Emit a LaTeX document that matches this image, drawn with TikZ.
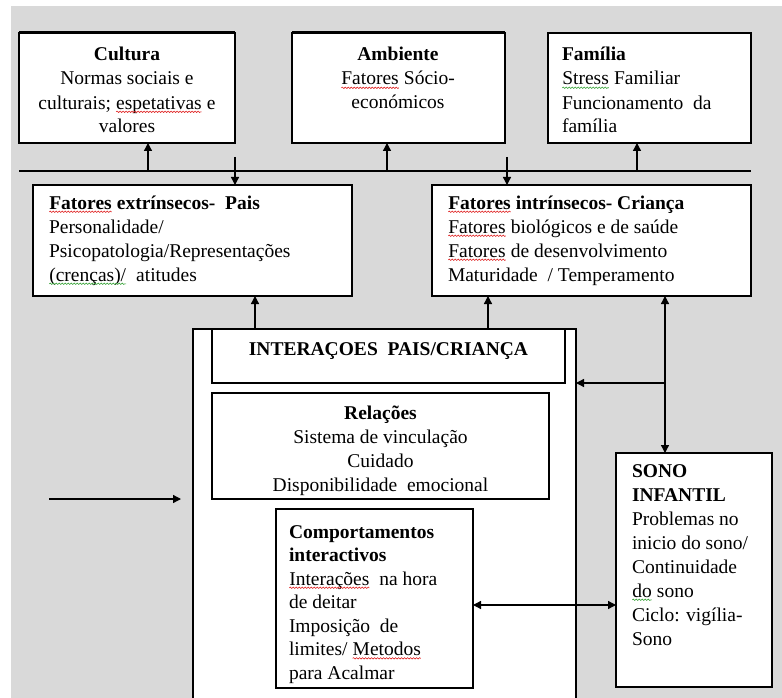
\documentclass[tikz,border=0pt]{standalone}
\usepackage{fontspec}
\setmainfont{Liberation Serif}
\usetikzlibrary{arrows.meta,decorations.pathmorphing}
\definecolor{bggray}{HTML}{D9D9D9}
\definecolor{sqred}{HTML}{E02020}
\definecolor{sqgreen}{HTML}{30A030}
\newcommand\wavy[2]{\tikz[baseline=(w.base)]{\node[inner sep=0pt,outer sep=0pt,anchor=base,draw=none,fill=none,minimum width=0pt,minimum height=0pt](w){#2};\draw[#1,line width=0.6pt,decorate,decoration={snake,amplitude=0.7pt,segment length=3pt}]([yshift=-2.8pt]w.base west)--([yshift=-2.8pt]w.base east);}}
\begin{document}
\begin{tikzpicture}[x=1pt,y=-1pt,
  box/.style={draw=black,line width=1.5pt,fill=white,inner sep=0pt,outer sep=0pt},
  txt/.style={inner sep=0pt,outer sep=0pt,font=\fontsize{19.5}{24}\selectfont},
  arr/.style={line width=1.3pt,-{Triangle[length=8pt,width=8pt]}},
  arr2/.style={line width=1.3pt,{Triangle[length=8pt,width=8pt]}-{Triangle[length=8pt,width=8pt]}}]
\useasboundingbox (0,0) rectangle (782,698);
\clip (0,0) rectangle (782,698);
\fill[white] (0,0) rectangle (782,698);
\fill[bggray] (11,6) rectangle (782,698);

% top boxes
\node[box,minimum width=216pt,minimum height=110pt] (cultura) at (127,88) {};
\node[box,minimum width=213pt,minimum height=110pt] (ambiente) at (398.5,88) {};
\node[box,minimum width=203pt,minimum height=110pt] (familia) at (649.5,88) {};
\draw[line width=3pt] (cultura.north west) -- (cultura.north east);
\draw[line width=3pt] (ambiente.north west) -- (ambiente.north east);

% (base anchor of a multi-line node = baseline of its last line)
\node[txt,anchor=base,align=center] (tcultura) at (127,133)
  {\textbf{Cultura}\\Normas sociais e\\culturais; \wavy{sqred}{espetativas} e\\valores};
\node[txt,anchor=base,align=center] (tambiente) at (398,109)
  {\textbf{Ambiente}\\\wavy{sqred}{Fatores} Sócio-\\económicos};
\node[txt,anchor=base west,align=left] (tfamilia) at (562,133)
  {\textbf{Família}\\\wavy{sqgreen}{Stress} Familiar\\Funcionamento \ da\\família};

% horizontal bus line
\coordinate (hlw) at (19,171);
\coordinate (hle) at (751,171);
\draw[line width=1.5pt] (hlw) -- (hle);

% middle boxes
\node[box,minimum width=319pt,minimum height=111pt] (extr) at (192.5,240.5) {};
\node[box,minimum width=319pt,minimum height=111pt] (intr) at (591.5,240.5) {};
\node[txt,anchor=base west,align=left] (textr) at (49,281)
  {\textbf{\wavy{sqred}{Fatores} extrínsecos- \ Pais}\\Personalidade/\\Psicopatologia/Representações\\\wavy{sqgreen}{(crenças)/} \ atitudes};
\node[txt,anchor=base west,align=left] (tintr) at (448,281)
  {\textbf{\wavy{sqred}{Fatores} intrínsecos- Criança}\\\wavy{sqred}{Fatores} biológicos e de saúde\\\wavy{sqred}{Fatores} de desenvolvimento\\Maturidade \ / Temperamento};

% arrows bus -> top boxes
\coordinate (u1) at (148,171);
\coordinate (u2) at (387,171);
\coordinate (u3) at (637,171);
\draw[arr] (u1) -- (u1 |- cultura.south);
\draw[arr] (u2) -- (u2 |- ambiente.south);
\draw[arr] (u3) -- (u3 |- familia.south);
% arrows down to middle boxes
\coordinate (d1) at (235,157);
\coordinate (d2) at (507,157);
\draw[arr] (d1) -- (d1 |- extr.north);
\draw[arr] (d2) -- (d2 |- intr.north);

% big interactions box
\node[box,minimum width=383pt,minimum height=381pt] (outer) at (384.5,519.5) {};
\node[box,minimum width=353pt,minimum height=54pt] (inter) at (388.5,356) {};
\node[txt,anchor=base,font=\fontsize{19.5}{24}\selectfont\bfseries] (tinter) at (388.5,355) {INTERAÇOES \ PAIS/CRIANÇA};
\node[box,minimum width=337pt,minimum height=106pt] (rel) at (380.5,446) {};
\node[txt,anchor=base,align=center,font=\fontsize{19.5}{23.7}\selectfont] (trel) at (380.5,491)
  {\textbf{Relações}\\Sistema de vinculação\\Cuidado\\Disponibilidade \ emocional};
\node[box,minimum width=197pt,minimum height=179pt] (comp) at (374.5,598.5) {};
\node[txt,anchor=base west,align=left,font=\fontsize{19.5}{23.5}\selectfont] (tcomp) at (289,679)
  {\textbf{Comportamentos}\\\textbf{interactivos}\\\wavy{sqred}{Interações} \ na hora\\de deitar\\Imposição \ de\\limites/ \wavy{sqred}{Metodos}\\para Acalmar};

% sleep box
\node[box,minimum width=156pt,minimum height=234pt] (sono) at (694,570) {};
\node[txt,anchor=base west,align=left] (tsono) at (632,645)
  {\textbf{SONO}\\\textbf{INFANTIL}\\Problemas no\\inicio do sono/\\Continuidade\\\wavy{sqgreen}{do} sono\\Ciclo: vigília-\\Sono};

% arrows
\coordinate (p1) at (255,0);
\coordinate (p2) at (488,0);
\coordinate (p3) at (665,0);
\coordinate (p4) at (0,605);
\draw[arr] (p1 |- outer.north) -- (p1 |- extr.south);
\draw[arr] (p2 |- outer.north) -- (p2 |- intr.south);
\draw[arr2] (p3 |- intr.south) -- (p3 |- sono.north);
\draw[arr] (p3 |- inter.south) -- (outer.east |- inter.south);
\draw[arr2] (comp.east |- p4) -- (sono.west |- p4);
\coordinate (la) at (49,499);
\coordinate (lb) at (181,499);
\draw[arr] (la) -- (lb);
\end{tikzpicture}
\end{document}
